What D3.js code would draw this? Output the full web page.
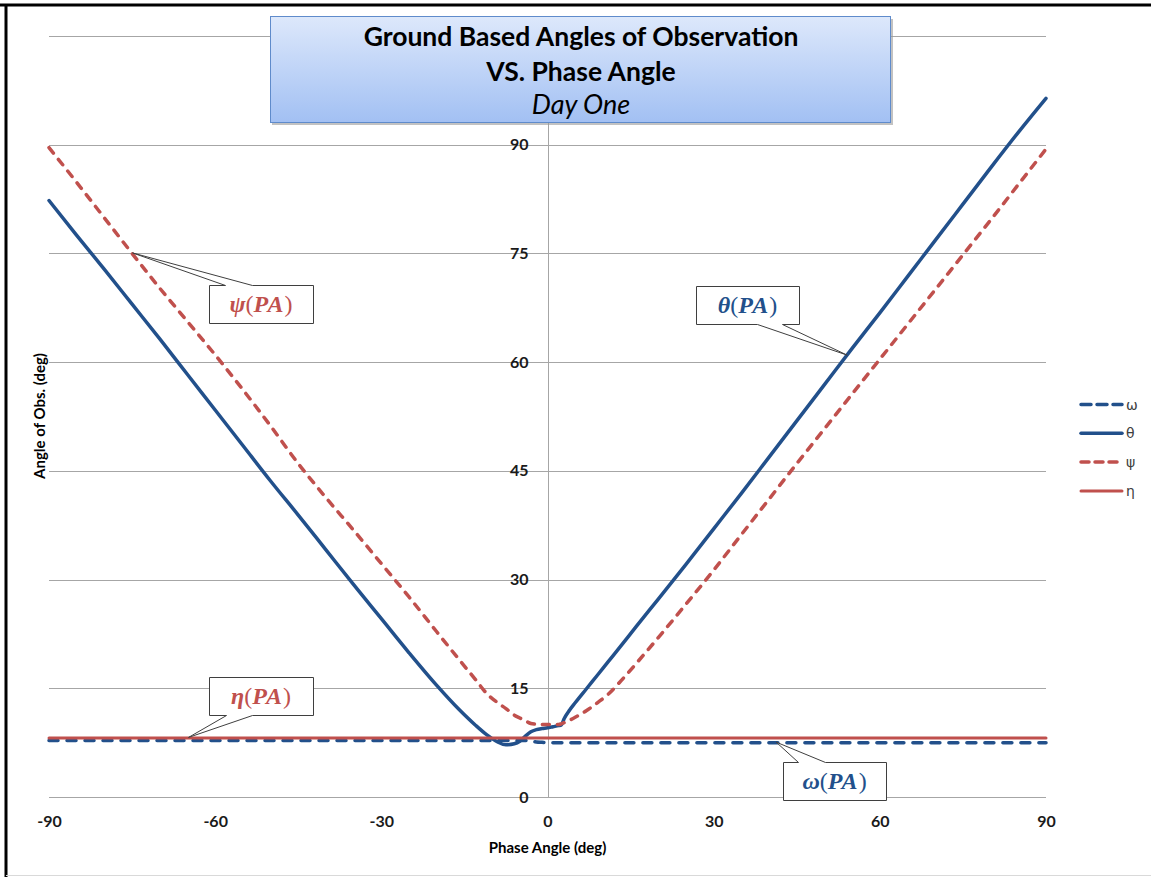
<!DOCTYPE html>
<html>
<head>
<meta charset="utf-8">
<script src="https://cdn.jsdelivr.net/npm/d3@7"></script>
<style>
  body { margin: 0; background: #fff; }
  svg { display: block; }
</style>
</head>
<body>
<svg id="chart" width="1151" height="877"></svg>
<script>
// phase angle samples (deg), shared by all four series
var phaseAngle = [-90,-85,-80,-75,-70,-65,-60,-55,-50,-45,-40,-35,-30,-25,-20,-16,-13,-11,-9,-7.5,-6,-5,-4,-3,-2,-1,0,1,2,2.5,3,4,5,7,9,11,13,16,20,25,30,35,40,45,50,55,60,65,70,75,80,85,90];

var omega = [7.8,7.8,7.8,7.8,7.8,7.8,7.8,7.8,7.8,7.8,7.8,7.8,7.8,7.8,7.8,7.8,7.8,7.8,7.8,7.8,7.8,7.8,7.8,7.7,7.6,7.55,7.5,7.5,7.5,7.5,7.5,7.5,7.5,7.5,7.5,7.5,7.5,7.5,7.5,7.5,7.5,7.5,7.5,7.5,7.5,7.5,7.5,7.5,7.5,7.5,7.5,7.5,7.5];

var theta = [82.3,77.5,72.8,68.0,63.2,58.3,53.4,48.5,43.6,38.9,34.1,29.3,24.6,19.9,15.4,12.1,9.9,8.6,7.6,7.2,7.35,7.7,8.4,9.0,9.3,9.45,9.55,9.7,9.85,9.95,10.8,12.0,13.0,14.9,16.8,18.7,20.6,23.5,27.3,32.1,37.0,41.9,46.9,51.9,56.9,61.9,66.8,71.8,76.8,81.8,86.8,91.7,96.4];

var psi = [89.6,84.8,79.9,75.0,70.2,65.6,61.0,56.2,51.2,46.0,41.3,36.8,32.2,27.6,22.8,19.0,16.2,14.3,13.0,12.2,11.3,10.9,10.5,10.15,10.05,10.0,10.0,10.0,10.0,10.1,10.25,10.6,11.0,11.9,13.0,14.2,15.8,18.4,22.0,26.6,31.3,36.2,41.1,46.0,50.8,55.6,60.4,65.2,70.0,74.8,79.6,84.5,89.4];

var eta = [8.15,8.15,8.15,8.15,8.15,8.15,8.15,8.15,8.15,8.15,8.15,8.15,8.15,8.15,8.15,8.15,8.15,8.15,8.15,8.15,8.15,8.15,8.15,8.15,8.15,8.15,8.15,8.15,8.15,8.15,8.15,8.15,8.15,8.15,8.15,8.15,8.15,8.15,8.15,8.15,8.15,8.15,8.15,8.15,8.15,8.15,8.15,8.15,8.15,8.15,8.15,8.15,8.15];

var seriesNames = ["ω","θ","ψ","η"];
var xTicks = [-90,-60,-30,0,30,60,90];
var yGrid = [0,15,30,45,60,75,90,105];
var yTicks = [0,15,30,45,60,75,90];
var titleLines = ["Ground Based Angles of Observation","VS. Phase Angle","Day One"];

var BLUE = "#22508b", RED = "#c0504d";

var svg = d3.select("#chart");

var x = d3.scaleLinear().domain([-90,90]).range([49,1046]);
var y = d3.scaleLinear().domain([0,105]).range([797,36]);

// outer frame
svg.append("line").attr("x1",0).attr("x2",1151).attr("y1",5).attr("y2",5)
   .attr("stroke","#000").attr("stroke-width",3);
svg.append("line").attr("x1",6).attr("x2",6).attr("y1",4).attr("y2",877)
   .attr("stroke","#000").attr("stroke-width",3);
svg.append("line").attr("x1",6).attr("x2",1151).attr("y1",875.5).attr("y2",875.5)
   .attr("stroke","#d9d9d9").attr("stroke-width",1);

// gridlines
svg.append("g").selectAll("line")
   .data(yGrid).enter()
   .append("line")
   .attr("x1",x(-90)).attr("x2",x(90))
   .attr("y1",function(d){ return Math.round(y(d))+0.5; })
   .attr("y2",function(d){ return Math.round(y(d))+0.5; })
   .attr("stroke","#a6a6a6").attr("stroke-width",1);

svg.append("line")
   .attr("x1",Math.round(x(0))+0.5).attr("x2",Math.round(x(0))+0.5)
   .attr("y1",y(105)).attr("y2",y(0))
   .attr("stroke","#a6a6a6").attr("stroke-width",1);

// axes (labels only)
var plain = function(d){ return String(d); };
var xAxis = svg.append("g")
   .attr("transform","translate(0,"+(y(0)+19)+")")
   .call(d3.axisBottom(x).tickValues(xTicks).tickFormat(plain).tickSize(0).tickPadding(0));
var yAxis = svg.append("g")
   .attr("transform","translate("+(x(0)-19)+",0)")
   .call(d3.axisLeft(y).tickValues(yTicks).tickFormat(plain).tickSize(0).tickPadding(0));
[xAxis,yAxis].forEach(function(a){
    a.select(".domain").remove();
    a.selectAll("text")
     .attr("font-family","Lato, 'Open Sans', sans-serif")
     .attr("font-weight","bold")
     .attr("font-size",16)
     .attr("fill","#1a1a1a");
});

svg.append("text")
   .attr("x",x(0)).attr("y",853)
   .attr("text-anchor","middle")
   .attr("font-family","Lato, sans-serif").attr("font-weight","bold").attr("font-size",15)
   .text("Phase Angle (deg)");
svg.append("text")
   .attr("transform","translate(45,416) rotate(-90)")
   .attr("text-anchor","middle")
   .attr("font-family","Lato, sans-serif").attr("font-weight","bold").attr("font-size",15)
   .text("Angle of Obs. (deg)");

// series
var series = [
    {name: seriesNames[0], values: omega, color: BLUE, width: 3.5, dash: "9,9"},
    {name: seriesNames[1], values: theta, color: BLUE, width: 3.5, dash: null},
    {name: seriesNames[2], values: psi,   color: RED,  width: 3.5, dash: "7,8"},
    {name: seriesNames[3], values: eta,   color: RED,  width: 3, dash: null}
];

var line = d3.line()
    .x(function(d){ return x(d[0]); })
    .y(function(d){ return y(d[1]); })
    .curve(d3.curveMonotoneX);

svg.append("g").selectAll("path")
   .data(series).enter()
   .append("path")
   .attr("d",function(s){ return line(d3.zip(phaseAngle,s.values)); })
   .attr("fill","none")
   .attr("stroke",function(s){ return s.color; })
   .attr("stroke-width",function(s){ return s.width; })
   .attr("stroke-dasharray",function(s){ return s.dash; })
   .attr("stroke-linecap","round")
   .attr("stroke-linejoin","round");

// legend
var legend = svg.append("g").selectAll("g")
   .data(series).enter()
   .append("g")
   .attr("transform",function(d,i){ return "translate(1081,"+(404.5+i*28.8)+")"; });
legend.append("line")
   .attr("x1",0).attr("x2",41)
   .attr("stroke",function(s){ return s.color; })
   .attr("stroke-width",function(s){ return s.width; })
   .attr("stroke-dasharray",function(s){ return s.dash ? (s.name=="ω" ? "10,6" : "8,6") : null; })
   .attr("stroke-linecap","round");
legend.append("text")
   .attr("x",45).attr("y",5)
   .attr("font-family","'DejaVu Sans', sans-serif").attr("font-size",14)
   .attr("fill","#404040")
   .text(function(s){ return s.name; });

// callouts: value of a series at a given phase angle
function valueAt(values, pa){
    return d3.scaleLinear().domain(phaseAngle).range(values)(pa);
}

var callouts = [
    {sym:"ψ", values: psi,   pa:-75,   color: RED,  box:[209,285,313,323], base:[225,252], side:"top"},
    {sym:"θ", values: theta, pa:54,    color: BLUE, box:[696,286,799,324], base:[757,782], side:"bottom"},
    {sym:"η", values: eta,   pa:-64.9, color: RED,  box:[209,677,313,715], base:[226,252], side:"bottom"},
    {sym:"ω", values: omega, pa:41.2,  color: BLUE, box:[783,762,886,800], base:[798,825], side:"top"}
];

callouts.forEach(function(c){
    var tx = x(c.pa), ty = y(valueAt(c.values,c.pa)) - 1;
    var b = c.box, p;
    if(c.side=="top"){
        p = "M"+b[0]+","+b[1]+"L"+c.base[0]+","+b[1]+"L"+tx+","+ty+"L"+c.base[1]+","+b[1]
          +"L"+b[2]+","+b[1]+"L"+b[2]+","+b[3]+"L"+b[0]+","+b[3]+"Z";
    } else {
        p = "M"+b[0]+","+b[1]+"L"+b[2]+","+b[1]+"L"+b[2]+","+b[3]+"L"+c.base[1]+","+b[3]
          +"L"+tx+","+ty+"L"+c.base[0]+","+b[3]+"L"+b[0]+","+b[3]+"Z";
    }
    svg.append("path")
       .attr("d",p)
       .attr("fill","#fff")
       .attr("stroke","#3f3f3f")
       .attr("stroke-width",1)
       .attr("transform","translate(0.5,0.5)");

    var t = svg.append("text")
       .attr("x",(b[0]+b[2])/2).attr("y",b[1]+27)
       .attr("text-anchor","middle")
       .attr("font-family","'Liberation Serif', 'DejaVu Serif', serif")
       .attr("font-size",24)
       .attr("font-weight","bold")
       .attr("fill",c.color);
    t.append("tspan").attr("font-style","italic").text(c.sym);
    t.append("tspan").attr("font-weight","normal").text("(");
    t.append("tspan").attr("font-style","italic").attr("letter-spacing",1).text("PA");
    t.append("tspan").attr("font-weight","normal").text(")");
});

// title box
var defs = svg.append("defs");
var grad = defs.append("linearGradient").attr("id","titleGrad")
   .attr("x1",0).attr("y1",0).attr("x2",0).attr("y2",1);
grad.append("stop").attr("offset","0%").attr("stop-color","#dde8fb");
grad.append("stop").attr("offset","100%").attr("stop-color","#a2c0f3");

svg.append("rect")
   .attr("x",272).attr("y",19).attr("width",621).attr("height",106)
   .attr("fill","#9a9a9a").attr("opacity",0.6);
svg.append("rect")
   .attr("x",270.5).attr("y",16.5).attr("width",620).attr("height",106)
   .attr("fill","url(#titleGrad)")
   .attr("stroke","#5f8bcb").attr("stroke-width",1);

svg.selectAll("text.title")
   .data(titleLines).enter()
   .append("text")
   .attr("class","title")
   .attr("x",581)
   .attr("y",function(d,i){ return [46,81,114][i]; })
   .attr("text-anchor","middle")
   .attr("font-family","Lato, 'Open Sans', sans-serif")
   .attr("font-size",function(d,i){ return i<2 ? 26.5 : 27; })
   .attr("font-weight",function(d,i){ return i<2 ? "bold" : "normal"; })
   .attr("font-style",function(d,i){ return i==2 ? "italic" : "normal"; })
   .attr("fill","#000")
   .text(function(d){ return d; });
</script>
</body>
</html>
